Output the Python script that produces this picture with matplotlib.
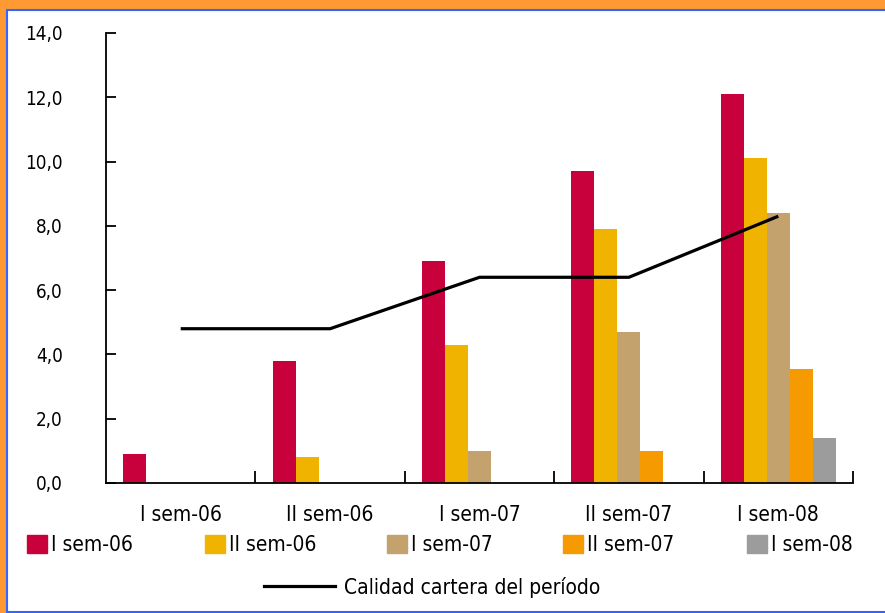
import matplotlib.pyplot as plt
from matplotlib.patches import Patch, Rectangle
from matplotlib.lines import Line2D
from matplotlib.ticker import FuncFormatter

plt.rcParams['font.family'] = ['DejaVu Sans']
plt.rcParams['font.stretch'] = 'condensed'

periods = ['I sem-06', 'II sem-06', 'I sem-07', 'II sem-07', 'I sem-08']

# one series per origination semester, values per observation period
series_labels = ['I sem-06', 'II sem-06', 'I sem-07', 'II sem-07', 'I sem-08']
s_i06 = [0.9, 3.8, 6.9, 9.7, 12.1]
s_ii06 = [None, 0.8, 4.3, 7.9, 10.1]
s_i07 = [None, None, 1.0, 4.7, 8.4]
s_ii07 = [None, None, None, 1.0, 3.55]
s_i08 = [None, None, None, None, 1.4]
calidad = [4.8, 4.8, 6.4, 6.4, 8.3]

colors = ['#C8003C', '#F0B400', '#C4A26E', '#F59A00', '#9C9C9C']

fig = plt.figure(figsize=(8.85, 6.13), dpi=100)
fig.patch.set_facecolor('#FF9933')
frame = Rectangle((6.5 / 885, 1.5 / 613), 1.0, (613 - 9.5 - 1.5) / 613,
                  transform=fig.transFigure, facecolor='white',
                  edgecolor='#3366FF', linewidth=1.5, zorder=-1)
fig.patches.append(frame)

ax = fig.add_axes([106 / 885, 130 / 613, (853 - 106) / 885, 450 / 613])
ax.set_zorder(2)
ax.set_facecolor('none')

width = 0.154
all_series = [s_i06, s_ii06, s_i07, s_ii07, s_i08]
for k, vals in enumerate(all_series):
    xs = [i + (k - 2) * width for i, v in enumerate(vals) if v is not None]
    hs = [v for v in vals if v is not None]
    ax.bar(xs, hs, width=width, color=colors[k], zorder=2)

ax.plot(range(len(periods)), calidad, color='black', linewidth=2.3,
        zorder=3, solid_capstyle='butt')

ax.set_xlim(-0.5, 4.5)
ax.set_ylim(0, 14)
ax.spines['top'].set_visible(False)
ax.spines['right'].set_visible(False)
ax.spines['left'].set_linewidth(1.3)
ax.spines['bottom'].set_linewidth(1.3)

ax.set_yticks(range(0, 15, 2))
ax.yaxis.set_major_formatter(FuncFormatter(lambda v, p: f'{v:.1f}'.replace('.', ',')))
ax.tick_params(axis='y', direction='in', length=7, width=1.3, pad=31, labelsize=13.5)

ax.set_xticks([0.5, 1.5, 2.5, 3.5, 4.5])
ax.set_xticklabels([])
ax.tick_params(axis='x', which='major', direction='in', length=9, width=1.3)
ax.set_xticks(range(len(periods)), minor=True)
ax.set_xticklabels(periods, minor=True)
ax.tick_params(axis='x', which='minor', length=0, pad=16, labelsize=15)

# legend entries placed one by one along the bottom
leg_x = [27, 205, 387, 563, 747]
for k in range(5):
    fig.legend([Patch(color=colors[k])], [series_labels[k]],
               loc='center left',
               bbox_to_anchor=(leg_x[k] / 885, 1 - 545 / 613),
               frameon=False, fontsize=15, handlelength=0.95,
               handleheight=0.95, handletextpad=0.2,
               borderaxespad=0, borderpad=0)

fig.legend([Line2D([0], [0], color='black', linewidth=2.3)],
           ['Calidad cartera del período'], loc='center left',
           bbox_to_anchor=(264 / 885, 1 - 587 / 613), frameon=False,
           fontsize=15, handlelength=3.4, handletextpad=0.45,
           borderaxespad=0, borderpad=0)

fig.savefig('out.png', dpi=100, facecolor=fig.get_facecolor())
